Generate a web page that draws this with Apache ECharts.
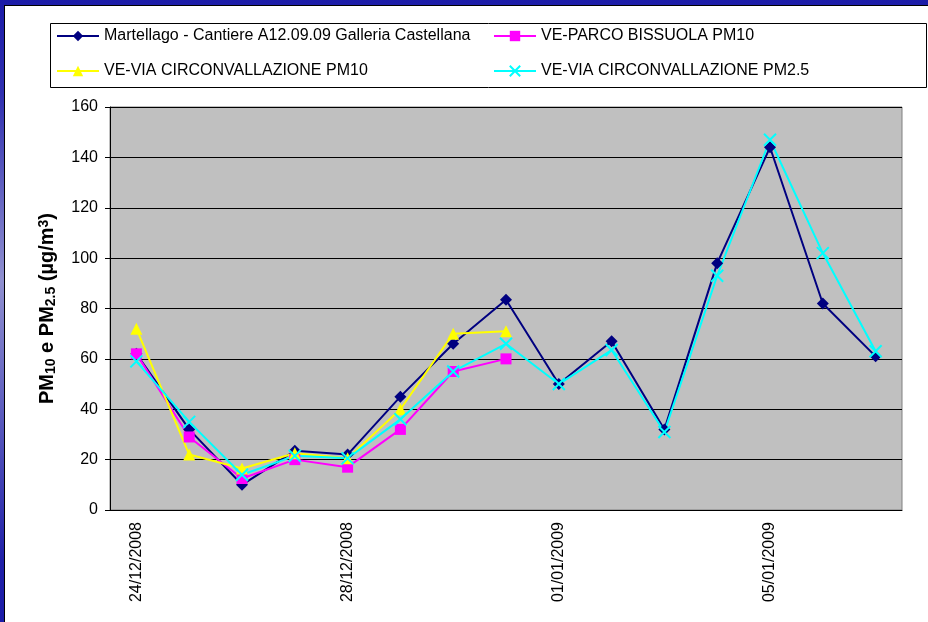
<!DOCTYPE html>
<html>
<head>
<meta charset="utf-8">
<script src="https://cdn.jsdelivr.net/npm/echarts@6/dist/echarts.min.js"></script>
<style>
	body { margin: 0; width: 928px; height: 622px; overflow: hidden;
		background: linear-gradient(to bottom, #1c1ca8 0%, #3030b0 15%, #9090d0 45%, #6060c0 65%, #2020a8 90%, #1c1ca8 100%); }
	#frame { position: absolute; left: 4px; top: 5px; right: 0; bottom: 0; background: #fff;
		border-left: 1px solid #000; border-top: 1px solid #000; }
	#chart { position: absolute; left: 0; top: 0; width: 928px; height: 622px; }
</style>
</head>
<body>
<div id="frame"></div>
<div id="chart"></div>
<script>
// dati
var giorni = ["24/12/2008", "25/12/2008", "26/12/2008", "27/12/2008", "28/12/2008", "29/12/2008", "30/12/2008", "31/12/2008",
	"01/01/2009", "02/01/2009", "03/01/2009", "04/01/2009", "05/01/2009", "06/01/2009", "07/01/2009"];
var martellago = [62, 32, 10, 23.5, 22, 45, 66, 83.5, 50, 67, 32, 98, 144, 82, 61];
var parcoBissuola = [62, 29, 12.5, 20, 17, 32, 55, 60, null, null, null, null, null, null, null];
var circPM10 = [72, 22, 16.5, 22.5, 20.5, 40, 70, 71, null, null, null, null, null, null, null];
var circPM25 = [59, 35, 14, 21.5, 20.5, 36, 55, 66, 50, 63.5, 31, 93, 147, 102, 63];
var nomi = ["Martellago - Cantiere A12.09.09 Galleria Castellana", "VE-PARCO BISSUOLA PM10",
	"VE-VIA CIRCONVALLAZIONE PM10", "VE-VIA CIRCONVALLAZIONE PM2.5"];

var chart = echarts.init(document.getElementById("chart"));

var font = "Arial, 'Liberation Sans', sans-serif";

function legenda(nome, x, y) {
	return {
		data: [nome], left: x, top: y, padding: 0,
		itemWidth: 42, itemHeight: 13, itemGap: 5,
		textStyle: { fontFamily: font, fontSize: 16, color: "#000" }
	};
}

var option = {
	animation: false,
	backgroundColor: "transparent",
	graphic: [{
		type: "rect", left: 50, top: 23,
		shape: { width: 876, height: 64 },
		style: { fill: "#fff", stroke: "#000", lineWidth: 1 }, z: -1
	}],
	legend: [
		legenda(nomi[0], 56, 28),
		legenda(nomi[1], 493, 28),
		legenda(nomi[2], 56, 63),
		legenda(nomi[3], 493, 63)
	],
	grid: {
		left: 110, right: 26, top: 107, bottom: 112,
		show: true, backgroundColor: "#c0c0c0", borderColor: "#808080", borderWidth: 1
	},
	xAxis: {
		type: "category", data: giorni, boundaryGap: true,
		axisLine: { lineStyle: { color: "#000", width: 1 } },
		axisTick: { interval: 3, length: 5, lineStyle: { color: "#000" } },
		axisLabel: { interval: 3, rotate: 90, margin: 12, fontFamily: font, fontSize: 16, color: "#000" },
		splitLine: { show: false }
	},
	yAxis: {
		type: "value", min: 0, max: 160, interval: 20,
		name: "PM{sub|10} e PM{sub|2.5} (µg/m{sup|3})",
		nameLocation: "middle", nameRotate: 90, nameGap: 52,
		nameTextStyle: {
			fontFamily: font, fontSize: 20, fontWeight: "bold", color: "#000",
			rich: {
				sub: { fontFamily: font, fontSize: 14, fontWeight: "bold", verticalAlign: "bottom", padding: [7, 0, 0, 0] },
				sup: { fontFamily: font, fontSize: 14, fontWeight: "bold", verticalAlign: "top", padding: [0, 0, 7, 0] }
			}
		},
		axisLine: { show: true, lineStyle: { color: "#000", width: 1 } },
		axisTick: { show: true, length: 5, lineStyle: { color: "#000" } },
		axisLabel: { margin: 12, fontFamily: font, fontSize: 16, color: "#000" },
		splitLine: { lineStyle: { color: "#000", width: 1 } }
	},
	series: [
		{
			name: nomi[0], type: "line", data: martellago,
			symbol: "diamond", symbolSize: 12,
			lineStyle: { color: "#000080", width: 2 },
			itemStyle: { color: "#000080" }
		},
		{
			name: nomi[1], type: "line", data: parcoBissuola,
			symbol: "rect", symbolSize: 11,
			lineStyle: { color: "#ff00ff", width: 2 },
			itemStyle: { color: "#ff00ff" }
		},
		{
			name: nomi[2], type: "line", data: circPM10,
			symbol: "triangle", symbolSize: 12,
			lineStyle: { color: "#ffff00", width: 2 },
			itemStyle: { color: "#ffff00" }
		},
		{
			name: nomi[3], type: "line", data: circPM25,
			symbol: "path://M0,0L10,10M10,0L0,10", symbolSize: 12,
			lineStyle: { color: "#00ffff", width: 2 },
			itemStyle: { color: "#00ffff", borderColor: "#00ffff", borderWidth: 2 }
		}
	]
};

chart.setOption(option);
</script>
</body>
</html>
